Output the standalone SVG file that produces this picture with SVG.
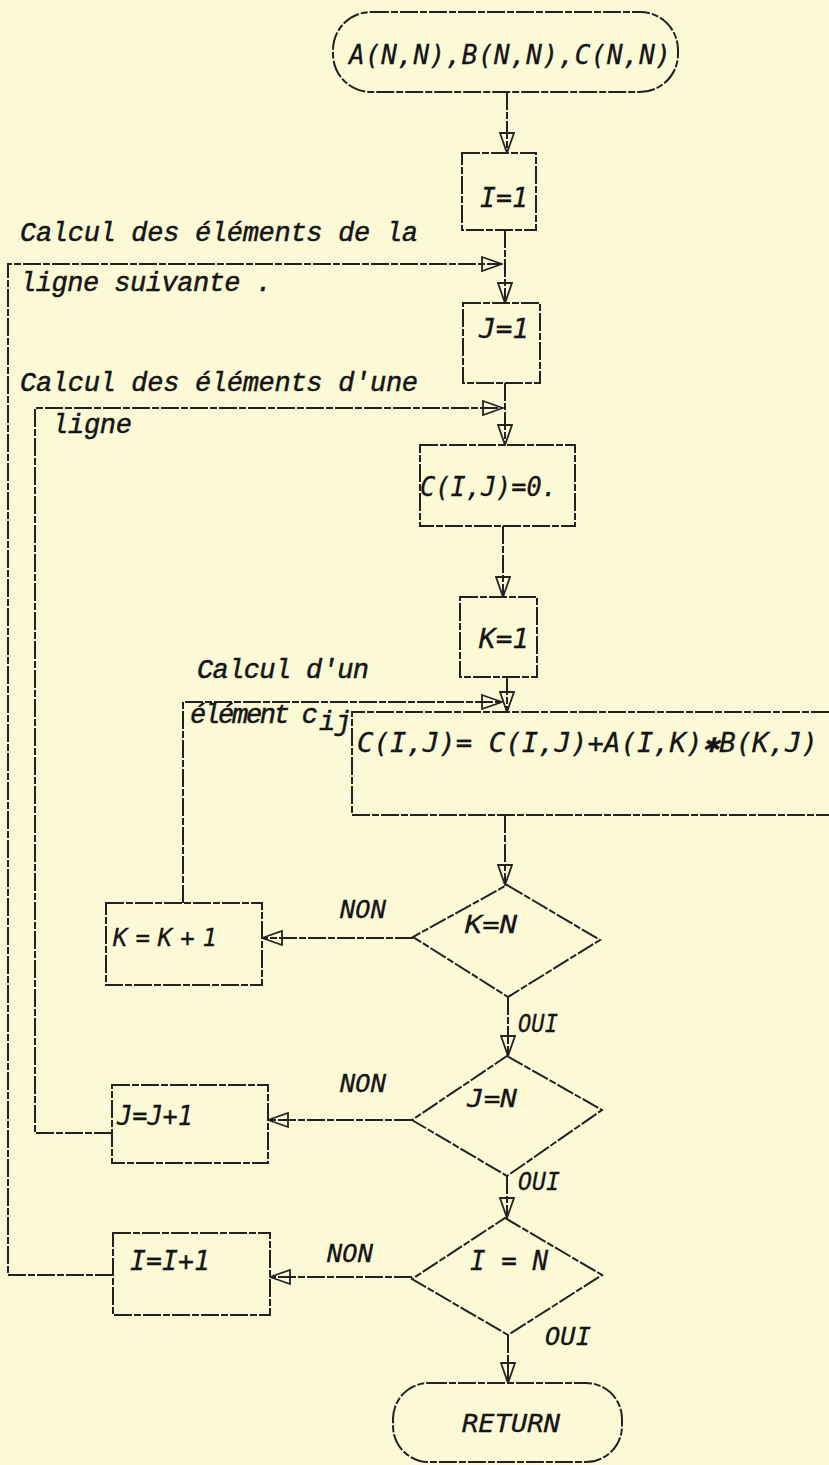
<svg xmlns="http://www.w3.org/2000/svg" width="829" height="1465" viewBox="0 0 829 1465">
<defs>
<style>
.ln{fill:none;stroke:#222;stroke-width:2;stroke-dasharray:18 2 7 2;stroke-linecap:butt}
.box{fill:none;stroke:#222;stroke-width:2;stroke-dasharray:18 2 7 2}
.f{font-family:"DejaVu Sans Mono","Liberation Mono",monospace;font-style:italic;fill:#151515;stroke:#151515;stroke-width:0.3}
.c{font-family:"Liberation Mono","DejaVu Sans Mono",monospace;font-style:italic;fill:#151515;stroke:#151515;stroke-width:0.5;font-size:27px}
</style>
<marker id="arr" viewBox="0 0 22 16" refX="21" refY="8" markerWidth="22" markerHeight="16" markerUnits="userSpaceOnUse" orient="auto">
<path d="M1,1 L21,8 L1,15 Z" fill="none" stroke="#222" stroke-width="1.8"/>
</marker>
</defs>
<rect x="0" y="0" width="829" height="1465" fill="#fcf9d6"/>

<g id="connectors">
<path class="ln" d="M507,92 V153" marker-end="url(#arr)"/>
<path class="ln" d="M505,230 V303" marker-end="url(#arr)"/>
<path class="ln" d="M113,1275 H8 V264 H502" marker-end="url(#arr)"/>
<path class="ln" d="M505,383 V445" marker-end="url(#arr)"/>
<path class="ln" d="M112,1133 H35 V408 H503" marker-end="url(#arr)"/>
<path class="ln" d="M503,526 V597" marker-end="url(#arr)"/>
<path class="ln" d="M507,677 V712" marker-end="url(#arr)"/>
<path class="ln" d="M183,903 V702 H502" marker-end="url(#arr)"/>
<path class="ln" d="M505,815 V885" marker-end="url(#arr)"/>
<path class="ln" d="M413,938 H262" marker-end="url(#arr)"/>
<path class="ln" d="M508,997 V1056" marker-end="url(#arr)"/>
<path class="ln" d="M412,1120 H268" marker-end="url(#arr)"/>
<path class="ln" d="M507,1176 V1218" marker-end="url(#arr)"/>
<path class="ln" d="M412,1277 H270" marker-end="url(#arr)"/>
<path class="ln" d="M508,1335 V1383" marker-end="url(#arr)"/>
</g>

<g id="labels">
<text class="c" x="20" y="241" textLength="398">Calcul des éléments de la</text>
<text class="c" x="20" y="291" textLength="252">ligne suivante .</text>
<text class="c" x="20" y="391" textLength="398">Calcul des éléments d'une</text>
<text class="c" x="52" y="433" textLength="80">ligne</text>
<text class="c" x="197" y="678" textLength="172">Calcul d'un</text>
<text class="c" x="190" y="723" textLength="128">élément c</text>
<text class="c" x="319" y="730" font-size="20">ij</text>
<text class="f" x="340" y="918" font-size="25" textLength="46" lengthAdjust="spacingAndGlyphs">NON</text>
<text class="f" x="518" y="1032" font-size="25" textLength="40" lengthAdjust="spacingAndGlyphs">OUI</text>
<text class="f" x="340" y="1092" font-size="25" textLength="46" lengthAdjust="spacingAndGlyphs">NON</text>
<text class="f" x="518" y="1190" font-size="25" textLength="42" lengthAdjust="spacingAndGlyphs">OUI</text>
<text class="f" x="327" y="1262" font-size="25" textLength="46" lengthAdjust="spacingAndGlyphs">NON</text>
<text class="f" x="545" y="1345" font-size="25" textLength="46" lengthAdjust="spacingAndGlyphs">OUI</text>
</g>

<g id="start">
<rect class="box" x="333" y="12" width="345" height="80" rx="38"/>
<text class="f" x="349" y="64" font-size="26" textLength="322">A(N,N),B(N,N),C(N,N)</text>
</g>
<g id="i1">
<rect class="box" x="462" y="153" width="74" height="77"/>
<text class="f" x="480" y="207" font-size="26" textLength="48" lengthAdjust="spacingAndGlyphs">I=1</text>
</g>
<g id="j1">
<rect class="box" x="463" y="303" width="77" height="80"/>
<text class="f" x="479" y="338" font-size="26" textLength="50" lengthAdjust="spacingAndGlyphs">J=1</text>
</g>
<g id="c0">
<rect class="box" x="420" y="445" width="155" height="81"/>
<text class="f" x="420" y="496" font-size="26" textLength="137" lengthAdjust="spacingAndGlyphs">C(I,J)=0.</text>
</g>
<g id="k1">
<rect class="box" x="460" y="597" width="77" height="80"/>
<text class="f" x="479" y="648" font-size="26" textLength="50" lengthAdjust="spacingAndGlyphs">K=1</text>
</g>
<g id="accum">
<path class="box" d="M829,712 H352 V815 H829"/>
<text class="f" x="357" y="752" font-size="26" textLength="461" lengthAdjust="spacingAndGlyphs">C(I,J)= C(I,J)+A(I,K)✱B(K,J)</text>
</g>
<g id="testk">
<path class="box" d="M507,885 L600,940 L508,997 L413,937 Z"/>
<text class="f" x="465" y="933" font-size="25" textLength="52" lengthAdjust="spacingAndGlyphs">K=N</text>
</g>
<g id="kinc">
<rect class="box" x="106" y="903" width="156" height="82"/>
<text class="f" x="113" y="946" font-size="24" textLength="104" lengthAdjust="spacing">K=K+1</text>
</g>
<g id="testj">
<path class="box" d="M507,1056 L602,1110 L507,1176 L412,1120 Z"/>
<text class="f" x="467" y="1107" font-size="25" textLength="50" lengthAdjust="spacingAndGlyphs">J=N</text>
</g>
<g id="jinc">
<rect class="box" x="112" y="1085" width="156" height="78"/>
<text class="f" x="117" y="1125" font-size="26" textLength="76" lengthAdjust="spacingAndGlyphs">J=J+1</text>
</g>
<g id="testi">
<path class="box" d="M505,1218 L602,1275 L508,1335 L412,1279 Z"/>
<text class="f" x="470" y="1270" font-size="26" textLength="78" lengthAdjust="spacingAndGlyphs">I = N</text>
</g>
<g id="iinc">
<rect class="box" x="113" y="1233" width="157" height="82"/>
<text class="f" x="130" y="1270" font-size="26" textLength="80" lengthAdjust="spacingAndGlyphs">I=I+1</text>
</g>
<g id="end">
<rect class="box" x="393" y="1383" width="229" height="79" rx="36"/>
<text class="f" x="462" y="1432" font-size="25" textLength="98" lengthAdjust="spacingAndGlyphs">RETURN</text>
</g>
</svg>
